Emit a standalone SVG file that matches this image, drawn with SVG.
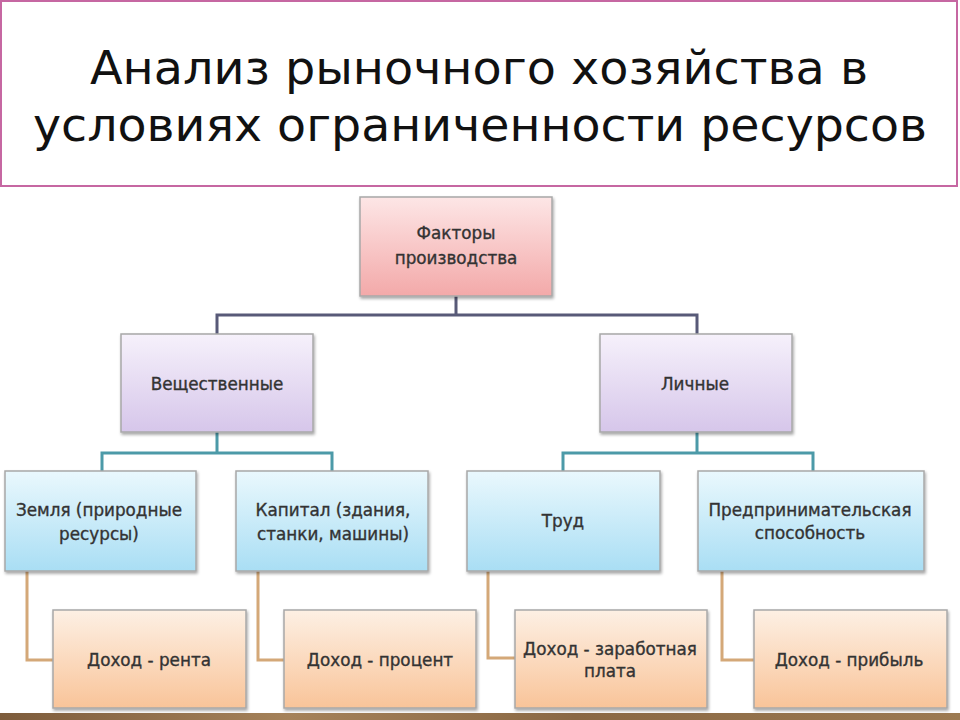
<svg xmlns="http://www.w3.org/2000/svg" width="960" height="720" viewBox="0 0 960 720">
  <defs>
    <linearGradient id="gPink" x1="0" y1="0" x2="0" y2="1">
      <stop offset="0" stop-color="#fde6e6"/>
      <stop offset="1" stop-color="#f3a9a9"/>
    </linearGradient>
    <linearGradient id="gPurple" x1="0" y1="0" x2="0" y2="1">
      <stop offset="0" stop-color="#f6f1fb"/>
      <stop offset="1" stop-color="#d6c6ea"/>
    </linearGradient>
    <linearGradient id="gBlue" x1="0" y1="0" x2="0" y2="1">
      <stop offset="0" stop-color="#eaf8fd"/>
      <stop offset="1" stop-color="#a9def4"/>
    </linearGradient>
    <linearGradient id="gPeach" x1="0" y1="0" x2="0" y2="1">
      <stop offset="0" stop-color="#fdf0e4"/>
      <stop offset="1" stop-color="#f9c499"/>
    </linearGradient>
    <linearGradient id="gWood" x1="0" y1="0" x2="1" y2="0">
      <stop offset="0" stop-color="#7d5c3c"/>
      <stop offset="0.3" stop-color="#a5825a"/>
      <stop offset="0.6" stop-color="#8a6844"/>
      <stop offset="1" stop-color="#9c7a52"/>
    </linearGradient>
    <filter id="sh" x="-10%" y="-10%" width="125%" height="130%">
      <feDropShadow dx="1" dy="2" stdDeviation="1.5" flood-color="#000" flood-opacity="0.35"/>
    </filter>
  </defs>
  <style>
    .box { stroke: #a8a8a8; stroke-width: 1.5; filter: url(#sh); }
    .lbl { font-family: "DejaVu Sans", "Liberation Sans", sans-serif; font-size: 16.8px; fill: #333; stroke: #333; stroke-width: 0.35; text-anchor: middle; }
    .title { font-family: "DejaVu Sans", "Liberation Sans", sans-serif; font-size: 47px; fill: #111; text-anchor: middle; }
    .c1 { fill: none; stroke: #585a78; stroke-width: 3; }
    .c2 { fill: none; stroke: #4c9aa8; stroke-width: 3; }
    .c3 { fill: none; stroke: #d4a878; stroke-width: 3; }
  </style>

  <rect x="0" y="0" width="960" height="720" fill="#ffffff"/>

  <g id="title">
    <rect x="1" y="1" width="956" height="185" fill="#ffffff" stroke="#c667a2" stroke-width="2"/>
    <text class="title" x="479" y="84" textLength="778" lengthAdjust="spacingAndGlyphs">Анализ рыночного хозяйства в</text>
    <text class="title" x="480" y="141" textLength="894" lengthAdjust="spacingAndGlyphs">условиях ограниченности ресурсов</text>
  </g>

  <g id="connectors">
    <path class="c1" d="M456 296 V315 M217 334 V315 H697 V334"/>
    <path class="c2" d="M217 432 V453 M102 471 V453 H332 V471"/>
    <path class="c2" d="M697 432 V453 M563 471 V453 H813 V471"/>
    <path class="c3" d="M27 571 V660 H53"/>
    <path class="c3" d="M258 571 V660 H284"/>
    <path class="c3" d="M488 571 V658 H515"/>
    <path class="c3" d="M722 571 V660 H754"/>
  </g>

  <g id="n-factors">
    <rect class="box" x="360" y="197" width="192" height="99" fill="url(#gPink)"/>
    <text class="lbl" x="456" y="239">Факторы</text>
    <text class="lbl" x="456" y="264">производства</text>
  </g>

  <g id="n-material">
    <rect class="box" x="121" y="334" width="192" height="98" fill="url(#gPurple)"/>
    <text class="lbl" x="217" y="390">Вещественные</text>
  </g>

  <g id="n-personal">
    <rect class="box" x="600" y="334" width="192" height="98" fill="url(#gPurple)"/>
    <text class="lbl" x="695" y="390">Личные</text>
  </g>

  <g id="n-land">
    <rect class="box" x="5" y="471" width="191" height="100" fill="url(#gBlue)"/>
    <text class="lbl" x="99" y="516">Земля (природные</text>
    <text class="lbl" x="99" y="540">ресурсы)</text>
  </g>

  <g id="n-capital">
    <rect class="box" x="236" y="471" width="192" height="100" fill="url(#gBlue)"/>
    <text class="lbl" x="333" y="516">Капитал (здания,</text>
    <text class="lbl" x="333" y="540">станки, машины)</text>
  </g>

  <g id="n-labour">
    <rect class="box" x="467" y="471" width="193" height="100" fill="url(#gBlue)"/>
    <text class="lbl" x="563" y="527">Труд</text>
  </g>

  <g id="n-entrepreneur">
    <rect class="box" x="698" y="471" width="226" height="100" fill="url(#gBlue)"/>
    <text class="lbl" x="810" y="516">Предпринимательская</text>
    <text class="lbl" x="810" y="539">способность</text>
  </g>

  <g id="n-rent">
    <rect class="box" x="53" y="610" width="193" height="98" fill="url(#gPeach)"/>
    <text class="lbl" x="149" y="666">Доход - рента</text>
  </g>

  <g id="n-interest">
    <rect class="box" x="284" y="610" width="192" height="98" fill="url(#gPeach)"/>
    <text class="lbl" x="380" y="666">Доход - процент</text>
  </g>

  <g id="n-wage">
    <rect class="box" x="515" y="610" width="192" height="98" fill="url(#gPeach)"/>
    <text class="lbl" x="610" y="655">Доход - заработная</text>
    <text class="lbl" x="610" y="677">плата</text>
  </g>

  <g id="n-profit">
    <rect class="box" x="754" y="610" width="193" height="98" fill="url(#gPeach)"/>
    <text class="lbl" x="849" y="666">Доход - прибыль</text>
  </g>

  <rect x="0" y="713" width="960" height="7" fill="url(#gWood)"/>
</svg>
